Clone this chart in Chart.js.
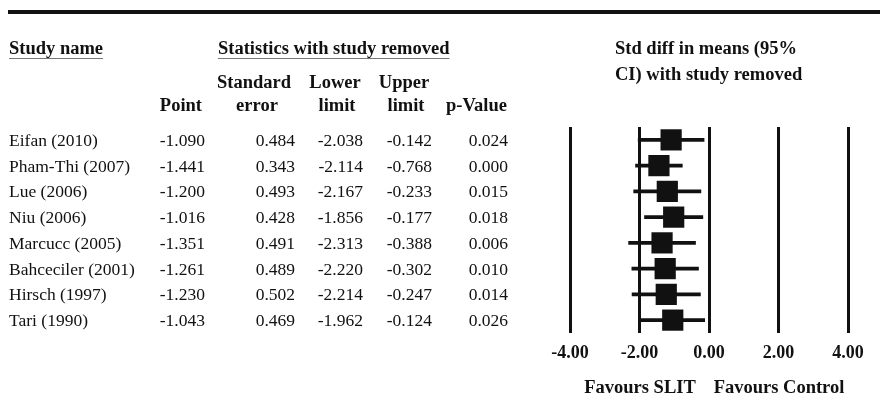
<!DOCTYPE html>
<html>
<head>
<meta charset="utf-8">
<script src="https://cdn.jsdelivr.net/npm/chart.js@4/dist/chart.umd.min.js"></script>
<style>
  body { margin: 0; background: #fff; }
  #quadro { position: relative; width: 880px; height: 397px; font-family: "Liberation Serif", "Times New Roman", serif; color: #111; }
  #grafico { position: absolute; left: 0; top: 0; }
  .txt { position: absolute; white-space: nowrap; }
  .cab { font-weight: bold; font-size: 18.5px; line-height: 22px; }
  .dado { font-size: 17.5px; line-height: 20px; }
  .sub { text-decoration: underline; text-decoration-thickness: 1px; text-underline-offset: 4px; text-decoration-color: #777; }
  #regua { position: absolute; left: 8px; top: 10px; width: 872px; height: 3.5px; background: #111; }
</style>
</head>
<body>
<div id="quadro">
  <div id="regua"></div>
  <canvas id="grafico" width="880" height="397"></canvas>
</div>
<script>
// Dados
const estudos = ["Eifan (2010)", "Pham-Thi (2007)", "Lue (2006)", "Niu (2006)", "Marcucc (2005)", "Bahceciler (2001)", "Hirsch (1997)", "Tari (1990)"];
const pontos = [-1.090, -1.441, -1.200, -1.016, -1.351, -1.261, -1.230, -1.043];
const errosPadrao = [0.484, 0.343, 0.493, 0.428, 0.491, 0.489, 0.502, 0.469];
const limitesInferiores = [-2.038, -2.114, -2.167, -1.856, -2.313, -2.220, -2.214, -1.962];
const limitesSuperiores = [-0.142, -0.768, -0.233, -0.177, -0.388, -0.302, -0.247, -0.124];
const valoresP = [0.024, 0.000, 0.015, 0.018, 0.006, 0.010, 0.014, 0.026];
const ticksEixo = [-4, -2, 0, 2, 4];

const fonte = '"Liberation Serif", "Times New Roman", serif';
const quadro = document.getElementById("quadro");

function texto(str, x, cy, alinhar, classe, meiaAltura) {
  const el = document.createElement("div");
  el.className = "txt " + classe;
  el.textContent = str;
  el.style.top = cy - meiaAltura + "px";
  if (alinhar === "left") {
    el.style.left = x + "px";
  } else if (alinhar === "right") {
    el.style.left = x - 200 + "px";
    el.style.width = "200px";
    el.style.textAlign = "right";
  } else {
    el.style.left = x - 100 + "px";
    el.style.width = "200px";
    el.style.textAlign = "center";
  }
  quadro.appendChild(el);
}

// =============================
// CABEÇALHOS
// =============================
texto("Study name", 9, 48, "left", "cab sub", 11);
texto("Statistics with study removed", 218, 48, "left", "cab sub", 11);
texto("Standard", 254, 82, "center", "cab", 11);
texto("Lower", 335, 82, "center", "cab", 11);
texto("Upper", 404, 82, "center", "cab", 11);
texto("Point", 202, 105, "right", "cab", 11);
texto("error", 257, 105, "center", "cab", 11);
texto("limit", 337, 105, "center", "cab", 11);
texto("limit", 406, 105, "center", "cab", 11);
texto("p-Value", 507, 105, "right", "cab", 11);
texto("Std diff in means (95%", 615, 48, "left", "cab", 11);
texto("CI) with study removed", 615, 74, "left", "cab", 11);
texto("Favours SLIT", 640, 387, "center", "cab", 11);
texto("Favours Control", 779, 387, "center", "cab", 11);

// =============================
// TABELA
// =============================
estudos.forEach((nome, i) => {
  const cy = 140 + i * 25.7;
  texto(nome, 9, cy, "left", "dado", 10);
  texto(pontos[i].toFixed(3), 205, cy, "right", "dado", 10);
  texto(errosPadrao[i].toFixed(3), 295, cy, "right", "dado", 10);
  texto(limitesInferiores[i].toFixed(3), 363, cy, "right", "dado", 10);
  texto(limitesSuperiores[i].toFixed(3), 432, cy, "right", "dado", 10);
  texto(valoresP[i].toFixed(3), 508, cy, "right", "dado", 10);
});

// =============================
// GRÁFICO
// =============================
const ctx = document.getElementById("grafico");

const grafico = new Chart(ctx, {
  data: {
    labels: estudos,
    datasets: [
      {
        type: "bar",
        indexAxis: "y",
        data: estudos.map((e, i) => [limitesInferiores[i], limitesSuperiores[i]]),
        backgroundColor: "#111",
        barThickness: 3,
        grouped: false,
        order: 1,
      },
      {
        type: "scatter",
        data: estudos.map((e, i) => ({ x: pontos[i], y: e })),
        pointStyle: "rect",
        pointRadius: 15,
        backgroundColor: "#111",
        borderWidth: 0,
        order: 0,
      },
    ],
  },
  options: {
    responsive: false,
    animation: false,
    layout: { padding: { left: 570, right: 32, top: 127, bottom: 0 } },
    plugins: { legend: { display: false }, tooltip: { enabled: false } },
    scales: {
      x: {
        type: "linear",
        min: ticksEixo[0],
        max: ticksEixo[ticksEixo.length - 1],
        afterBuildTicks: (s) => { s.ticks = ticksEixo.map((v) => ({ value: v })); },
        afterFit: (s) => { s.height = 64; },
        ticks: {
          callback: (v) => Number(v).toFixed(2),
          padding: 10,
          color: "#111",
          font: { family: fonte, size: 18, weight: "bold" },
        },
        grid: { color: "#111", lineWidth: 3, drawTicks: false },
        border: { display: false },
      },
      y: { type: "category", display: false, offset: true },
    },
  },
});
</script>
</body>
</html>
